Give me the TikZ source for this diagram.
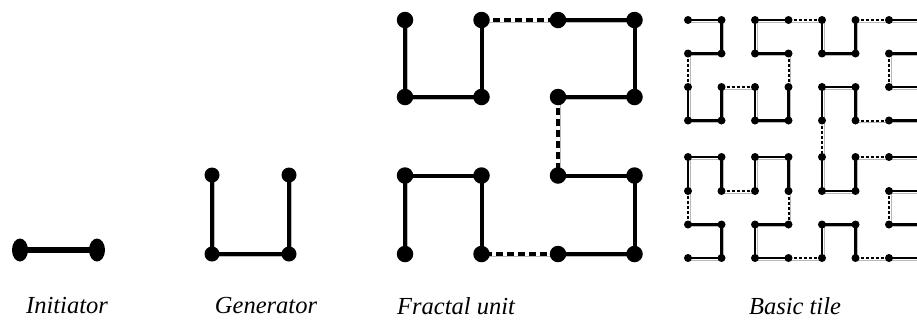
\documentclass[tikz,border=0pt]{standalone}
\usepackage{fontspec}
\setmainfont{Liberation Serif}
\usetikzlibrary{shapes.geometric}
\pgfdeclarelayer{bg}
\pgfsetlayers{bg,main}
\begin{document}
\begin{tikzpicture}[x=1pt,y=-1pt,
  idot/.style={ellipse,fill=black,inner sep=0pt,minimum width=16pt,minimum height=23pt},
  gdot/.style={circle,fill=black,inner sep=0pt,minimum size=15pt},
  fdot/.style={circle,fill=black,inner sep=0pt,minimum size=16.5pt},
  tdot/.style={circle,fill=black,inner sep=0pt,minimum size=8pt},
  shad/.style={preaction={draw=gray!55,transform canvas={shift={(1.8pt,-1.8pt)}}}},
  iline/.style={draw=black,line width=5.5pt,shad},
  gline/.style={draw=black,line width=3.5pt,shad},
  fline/.style={draw=black,line width=4pt,line join=miter,shad},
  fdash/.style={draw=black,line width=4pt,dash pattern=on 7pt off 4pt,shad},
  tline/.style={draw=black,line width=2.2pt,line join=miter,shad},
  tdash/.style={draw=black,line width=2pt,dash pattern=on 3pt off 2pt,shad},
  lab/.style={font=\fontsize{24.5}{28}\selectfont\itshape,inner sep=0pt}
]
\useasboundingbox (0,0) rectangle (917,325);

% Initiator
\node[idot] (i1) at (20,250) {};
\node[idot] (i2) at (97,250) {};
% Generator
\node[gdot] (g1) at (212,175) {};
\node[gdot] (g2) at (212,254) {};
\node[gdot] (g3) at (289,254) {};
\node[gdot] (g4) at (289,175) {};
% Fractal unit
\foreach \c/\x in {0/405,1/481.5,2/558,3/634.5}
  \foreach \r/\y in {0/20,1/97,2/175.5,3/254}
    \node[fdot] (f\c\r) at (\x,\y) {};
% Basic tile
\foreach \r/\y in {0/20,1/53.5,2/87,3/120.5,4/157,5/191,6/224.5,7/258}{
  \foreach \c/\x in {0/688,1/721.5,2/755,3/788.5,4/822,5/855.5,6/889}
    \node[tdot] (t\c\r) at (\x,\y) {};
  \coordinate (e\r) at (917,\y);
}

\begin{pgfonlayer}{bg}
\path[iline] (i1.center) -- (i2.center);
\path[gline] (g1.center) -- (g2.center) -- (g3.center) -- (g4.center);
% fractal unit
\path[fline] (f00.center) -- (f01.center) -- (f11.center) -- (f10.center);
\path[fdash] (f10.center) -- (f20.center);
\path[fline] (f20.center) -- (f30.center) -- (f31.center) -- (f21.center);
\path[fdash] (f21.center) -- (f22.center);
\path[fline] (f22.center) -- (f32.center) -- (f33.center) -- (f23.center);
\path[fdash] (f23.center) -- (f13.center);
\path[fline] (f13.center) -- (f12.center) -- (f02.center) -- (f03.center);
% basic tile
\path[tline] (t00.center) -- (t10.center) -- (t11.center) -- (t01.center);
\path[tdash] (t01.center) -- (t02.center);
\path[tline] (t02.center) -- (t03.center) -- (t13.center) -- (t12.center);
\path[tdash] (t12.center) -- (t22.center);
\path[tline] (t22.center) -- (t23.center) -- (t33.center) -- (t32.center);
\path[tdash] (t32.center) -- (t31.center);
\path[tline] (t31.center) -- (t21.center) -- (t20.center) -- (t30.center);
\path[tdash] (t30.center) -- (t40.center);
\path[tline] (t40.center) -- (t41.center) -- (t51.center) -- (t50.center);
\path[tdash] (t50.center) -- (t60.center);
\path[tline] (t60.center) -- (e0);
\path[tline] (e1) -- (t61.center);
\path[tdash] (t61.center) -- (t62.center);
\path[tline] (t62.center) -- (e2);
\path[tline] (e3) -- (t63.center);
\path[tdash] (t63.center) -- (t53.center);
\path[tline] (t53.center) -- (t52.center) -- (t42.center) -- (t43.center);
\path[tdash] (t43.center) -- (t44.center);
\path[tline] (t44.center) -- (t45.center) -- (t55.center) -- (t54.center);
\path[tdash] (t54.center) -- (t64.center);
\path[tline] (t64.center) -- (e4);
\path[tline] (e5) -- (t65.center);
\path[tdash] (t65.center) -- (t66.center);
\path[tline] (t66.center) -- (e6);
\path[tline] (e7) -- (t67.center);
\path[tdash] (t67.center) -- (t57.center);
\path[tline] (t57.center) -- (t56.center) -- (t46.center) -- (t47.center);
\path[tdash] (t47.center) -- (t37.center);
\path[tline] (t37.center) -- (t27.center) -- (t26.center) -- (t36.center);
\path[tdash] (t36.center) -- (t35.center);
\path[tline] (t35.center) -- (t34.center) -- (t24.center) -- (t25.center);
\path[tdash] (t25.center) -- (t15.center);
\path[tline] (t15.center) -- (t14.center) -- (t04.center) -- (t05.center);
\path[tdash] (t05.center) -- (t06.center);
\path[tline] (t06.center) -- (t16.center) -- (t17.center) -- (t07.center);
\end{pgfonlayer}

% Labels
\node[lab] (li) at (67,306) {Initiator};
\node[lab] (lg) at (266,306) {Generator};
\node[lab] (lf) at (456,306) {Fractal unit};
\node[lab] (lt) at (795,306) {Basic tile};
\end{tikzpicture}
\end{document}
